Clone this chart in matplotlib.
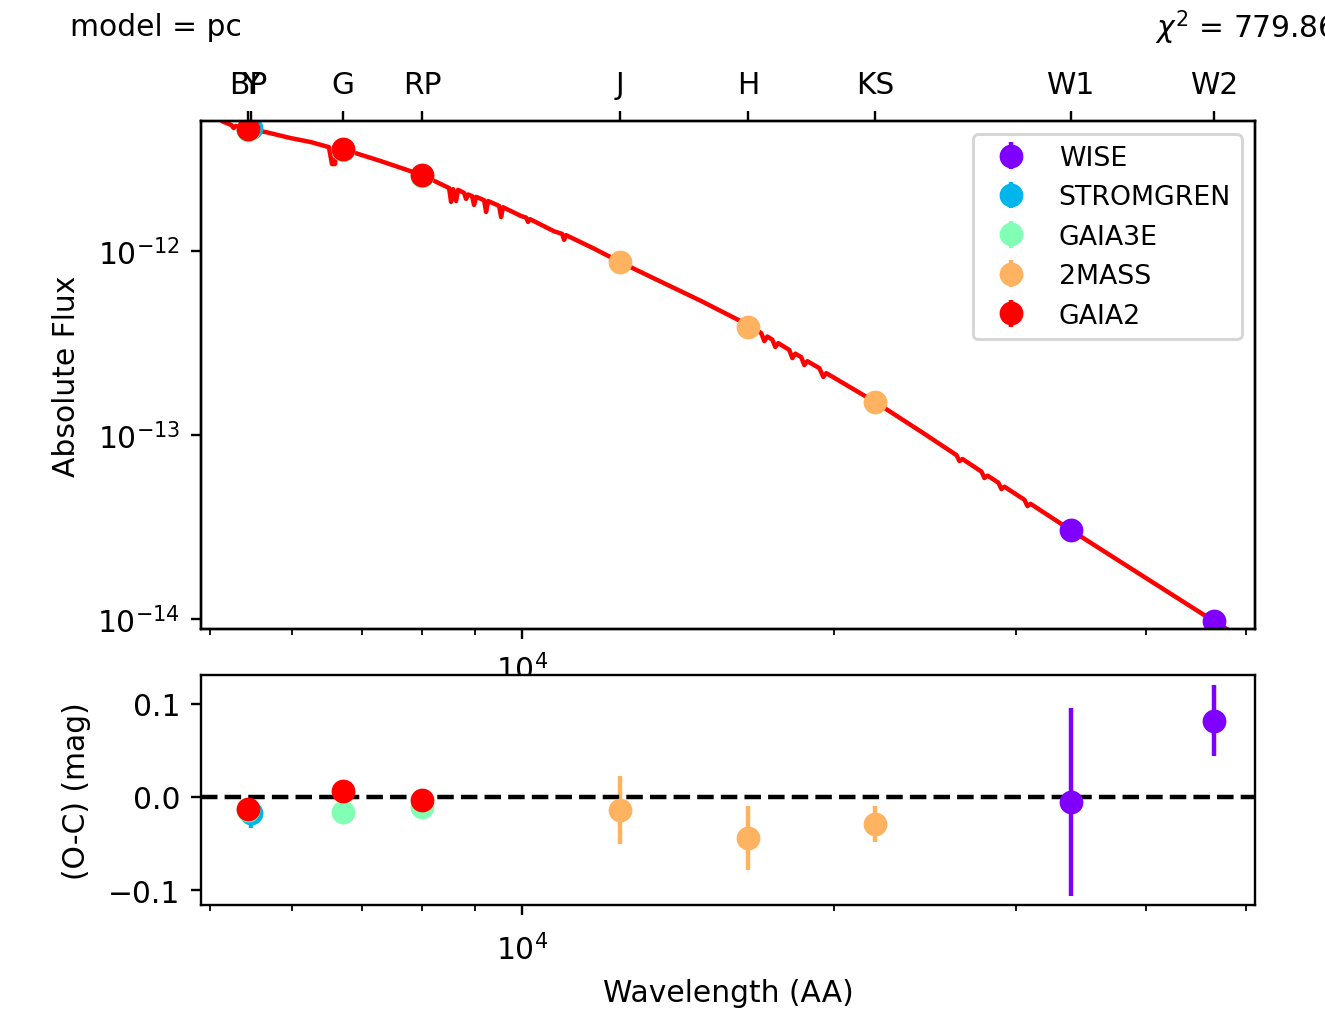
import matplotlib
matplotlib.use('Agg')
import matplotlib.pyplot as plt
import matplotlib.ticker as mticker
import numpy as np

# band names shown on the top axis and their wavelengths (AA)
band_names = ['BP', 'Y', 'G', 'RP', 'J', 'H', 'KS', 'W1', 'W2']
band_wave = [5436, 5470, 6716, 8005, 12436, 16536, 21932, 33844, 46523]

# photometric systems in plotting order
systems = ['WISE', 'STROMGREN', 'GAIA3E', '2MASS', 'GAIA2']

wise_wave = [33844, 46523]
wise_flux = [3.05e-14, 9.75e-15]
wise_ferr = [2.8e-15, 3.4e-16]
wise_oc = [-0.005, 0.082]
wise_ocerr = [0.101, 0.038]

strom_wave = [5470]
strom_flux = [4.65e-12]
strom_ferr = [6.8e-14]
strom_oc = [-0.017]
strom_ocerr = [0.016]

gaia3_wave = [5436, 6716, 8005]
gaia3_flux = [4.56e-12, 3.52e-12, 2.55e-12]
gaia3_ferr = [1.2e-14, 8e-15, 7e-15]
gaia3_oc = [-0.014, -0.016, -0.011]
gaia3_ocerr = [0.003, 0.003, 0.003]

tmass_wave = [12436, 16536, 21932]
tmass_flux = [8.71e-13, 3.86e-13, 1.51e-13]
tmass_ferr = [2.9e-14, 1.2e-14, 2.6e-15]
tmass_oc = [-0.014, -0.044, -0.029]
tmass_ocerr = [0.036, 0.034, 0.019]

gaia2_wave = [5436, 6716, 8005]
gaia2_flux = [4.60e-12, 3.58e-12, 2.59e-12]
gaia2_ferr = [1.2e-14, 8e-15, 7e-15]
gaia2_oc = [-0.013, 0.006, -0.003]
gaia2_ocerr = [0.003, 0.003, 0.003]

# model spectrum (AA, absolute flux)
model_wave = [4951, 5142, 5240, 5267, 5290, 5436, 5658, 5979, 6253, 6509,
              6553, 6597, 6627, 6716, 7307, 8005, 8350, 8502, 8540, 8577,
              8635, 8672, 8790, 8829, 8868, 8948, 8987, 9028, 9190, 9231,
              9271, 9502, 9544, 9585, 9978, 10089, 10134, 10179, 10737, 10930,
              10980, 11028, 11737, 12436, 13325, 14892, 16536, 17018, 17134, 17249,
              17441, 17558, 17674, 18113, 18234, 18357, 18601, 18726, 18853, 19364,
              19535, 19665, 21932, 24298, 26264, 26440, 26617, 27763, 27949, 28138,
              28828, 29022, 29216, 30549, 30754, 30963, 33844, 39636, 46523, 48417]
model_flux = [6.00e-12, 5.05e-12, 4.84e-12, 4.66e-12, 4.78e-12, 4.60e-12, 4.43e-12, 4.11e-12, 3.91e-12, 3.67e-12,
              2.97e-12, 2.97e-12, 3.63e-12, 3.58e-12, 3.08e-12, 2.59e-12, 2.31e-12, 2.20e-12, 1.85e-12, 2.17e-12,
              1.87e-12, 2.15e-12, 2.07e-12, 1.92e-12, 2.03e-12, 1.99e-12, 1.78e-12, 1.97e-12, 1.89e-12, 1.63e-12,
              1.87e-12, 1.76e-12, 1.53e-12, 1.73e-12, 1.55e-12, 1.52e-12, 1.44e-12, 1.49e-12, 1.28e-12, 1.24e-12,
              1.15e-12, 1.22e-12, 1.03e-12, 8.71e-13, 7.22e-13, 5.35e-13, 3.96e-13, 3.58e-13, 3.24e-13, 3.43e-13,
              3.30e-13, 3.01e-13, 3.16e-13, 2.90e-13, 2.62e-13, 2.77e-13, 2.65e-13, 2.40e-13, 2.52e-13, 2.31e-13,
              2.07e-13, 2.17e-13, 1.51e-13, 1.04e-13, 7.78e-14, 7.22e-14, 7.41e-14, 6.33e-14, 5.84e-14, 6.02e-14,
              5.51e-14, 5.09e-14, 5.24e-14, 4.45e-14, 4.11e-14, 4.23e-14, 3.05e-14, 1.73e-14, 9.75e-15, 8.50e-15]

chi2 = 779.86
model_name = 'pc'

W, H = 1325, 1024
DPI = 214
fig = plt.figure(figsize=(W / DPI, H / DPI), dpi=DPI)

ax1 = fig.add_axes([201 / W, 1 - 630 / H, 1054 / W, 508 / H])
ax1.set_xscale('log')
ax1.set_yscale('log')

data = [
    (wise_wave, wise_flux, wise_ferr, wise_oc, wise_ocerr),
    (strom_wave, strom_flux, strom_ferr, strom_oc, strom_ocerr),
    (gaia3_wave, gaia3_flux, gaia3_ferr, gaia3_oc, gaia3_ocerr),
    (tmass_wave, tmass_flux, tmass_ferr, tmass_oc, tmass_ocerr),
    (gaia2_wave, gaia2_flux, gaia2_ferr, gaia2_oc, gaia2_ocerr),
]
colors = plt.cm.rainbow(np.linspace(0, 1, len(systems)))

ax1.plot(model_wave, model_flux, '-', color='red', lw=1.5, zorder=1)
for name, (w, f, fe, oc, oce), c in zip(systems, data, colors):
    ax1.errorbar(w, f, yerr=fe, fmt='o', color=c, ms=7, label=name, zorder=2)

xlim = (4898, 51000)
ax1.set_xlim(xlim)
ax1.set_ylim(8.83e-15, 5.09e-12)
ax1.yaxis.set_minor_locator(mticker.NullLocator())
ax1.xaxis.set_minor_formatter(mticker.NullFormatter())
ax1.tick_params(axis='x', pad=4.5)
ax1.set_ylabel('Absolute Flux', labelpad=5.5)
ax1.legend(loc='upper right', fontsize=9)

# band labels on top
axt = ax1.twiny()
axt.set_xscale('log')
axt.set_xlim(xlim)
axt.set_xticks(band_wave)
axt.set_xticklabels(band_names)
axt.xaxis.set_minor_locator(mticker.NullLocator())
axt.tick_params(axis='x', pad=3.8)

# residuals
ax2 = fig.add_axes([201 / W, 1 - 906 / H, 1054 / W, 230 / H])
ax2.set_xscale('log')
for name, (w, f, fe, oc, oce), c in zip(systems, data, colors):
    ax2.errorbar(w, oc, yerr=oce, fmt='o', color=c, ms=7)
ax2.axhline(0, color='black', ls='--', lw=1.5)
ax2.set_xlim(xlim)
ax2.set_ylim(-0.116, 0.131)
ax2.xaxis.set_minor_formatter(mticker.NullFormatter())
ax2.tick_params(axis='x', pad=6)
ax2.set_ylabel('(O-C) (mag)', labelpad=5.5)
ax2.set_xlabel('Wavelength (AA)', labelpad=4)

fig.text(70 / W, 1 - 28 / H, 'model = ' + model_name, ha='left', va='center', fontsize=10)
fig.text(1155 / W, 1 - 28 / H, r'$\chi^2$ = ' + f'{chi2:.2f}', ha='left', va='center', fontsize=10)

fig.savefig('out.png', dpi=DPI)
